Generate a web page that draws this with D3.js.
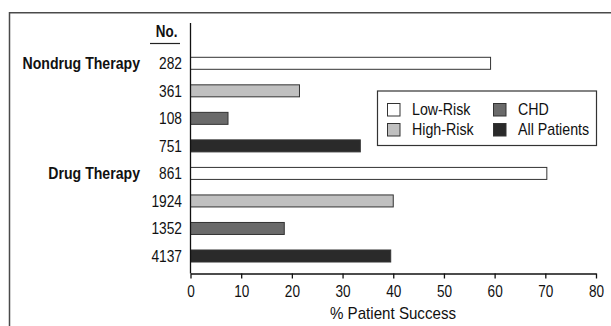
<!DOCTYPE html>
<html><head><meta charset="utf-8">
<script src="https://cdn.jsdelivr.net/npm/d3@7"></script>
<style>
html,body{margin:0;padding:0;background:#fff;overflow:hidden}
text{font-family:"Liberation Sans",Arial,Helvetica,sans-serif;fill:#111}
</style></head>
<body>
<svg id="c" width="611" height="326"></svg>
<script>
// ---- data ----
const groups = ["Nondrug Therapy", "Drug Therapy"];
const rowN = ["282", "361", "108", "751", "861", "1924", "1352", "4137"];
const rowGroup = [0, 0, 0, 0, 1, 1, 1, 1];
const rowSeries = ["Low-Risk", "High-Risk", "CHD", "All Patients", "Low-Risk", "High-Risk", "CHD", "All Patients"];
const values = [59.2, 21.5, 7.4, 33.5, 70.3, 40.0, 18.5, 39.5];
const seriesNames = ["Low-Risk", "High-Risk", "CHD", "All Patients"];
const seriesColors = ["#ffffff", "#c0c0c0", "#6a6a6a", "#2a2a2a"];
const xTicks = [0, 10, 20, 30, 40, 50, 60, 70, 80];
const xTitle = "% Patient Success";
const nHeader = "No.";

const svg = d3.select("#c");
// condensed text helper
function T(parent, x, y, str, o) {
  return parent.append("text")
    .attr("transform", `translate(${x},${y}) scale(${o.sx},1)`)
    .attr("text-anchor", o.anchor || "start")
    .attr("font-size", o.size)
    .attr("font-weight", o.weight || "normal")
    .text(str);
}

// outer frame (extends off the page at right/bottom)
svg.append("rect").attr("x", 9.5).attr("y", 12.75).attr("width", 700).attr("height", 400)
  .attr("fill", "none").attr("stroke", "#4a4a4a").attr("stroke-width", 1.5);

const x = d3.scaleLinear().domain([0, 80]).range([190.5, 596]);
const y = d3.scalePoint().domain(d3.range(rowN.length)).range([63.3, 256]);
const color = d3.scaleOrdinal().domain(seriesNames).range(seriesColors);
const bh = 12;

// bars
svg.append("g").selectAll("rect").data(values).join("rect")
  .attr("x", x(0))
  .attr("y", (d, i) => y(i) - bh / 2)
  .attr("width", d => x(d) - x(0))
  .attr("height", bh)
  .attr("fill", (d, i) => color(rowSeries[i]))
  .attr("stroke", "#333").attr("stroke-width", 1);

// y axis line
svg.append("line").attr("x1", x(0)).attr("x2", x(0)).attr("y1", 23).attr("y2", 273.5)
  .attr("stroke", "#111").attr("stroke-width", 1.3);

// x axis
const xa = svg.append("g").attr("transform", "translate(0,273.5)")
  .call(d3.axisBottom(x).tickValues(xTicks).tickSize(5).tickSizeOuter(0));
xa.select(".domain").attr("stroke", "#111").attr("stroke-width", 1.3);
xa.selectAll(".tick line").attr("stroke", "#111").attr("stroke-width", 1.3);
xa.selectAll(".tick text")
  .attr("y", null).attr("dy", null)
  .attr("transform", "translate(0,23) scale(0.8,1)")
  .attr("font-size", 17).attr("fill", "#111")
  .attr("font-family", '"Liberation Sans",Arial,sans-serif');

T(svg, 393, 319, xTitle, { size: 17, sx: 0.89, anchor: "middle" });

// N column
T(svg, 177.5, 36.7, nHeader, { size: 16, sx: 0.84, anchor: "end", weight: "bold" });
svg.append("line").attr("x1", 150).attr("x2", 180).attr("y1", 43.5).attr("y2", 43.5)
  .attr("stroke", "#222").attr("stroke-width", 1.2);
const ng = svg.append("g");
rowN.forEach((d, i) => T(ng, 182, y(i) + 5.8, d, { size: 16, sx: 0.86, anchor: "end" }));

// group labels
const gg = svg.append("g");
groups.forEach((d, g) => T(gg, 140, y(rowGroup.indexOf(g)) + 6, d,
  { size: 17, sx: 0.83, anchor: "end", weight: "bold" }));

// legend
const lg = svg.append("g");
lg.append("rect").attr("x", 377.5).attr("y", 91).attr("width", 219).attr("height", 54.5)
  .attr("fill", "#fff").attr("stroke", "#333").attr("stroke-width", 1.2);
const lx = [387.5, 493.5], ly = [103.5, 123.5];
seriesNames.forEach((d, i) => {
  const gx = lx[Math.floor(i / 2)], gy = ly[i % 2];
  lg.append("rect").attr("x", gx).attr("y", gy).attr("width", 12.5).attr("height", 12.5)
    .attr("fill", color(d)).attr("stroke", "#333").attr("stroke-width", 1);
  T(lg, gx + 24.5, gy + 11.5, d, { size: 16, sx: 0.89 });
});
</script>
</body></html>
